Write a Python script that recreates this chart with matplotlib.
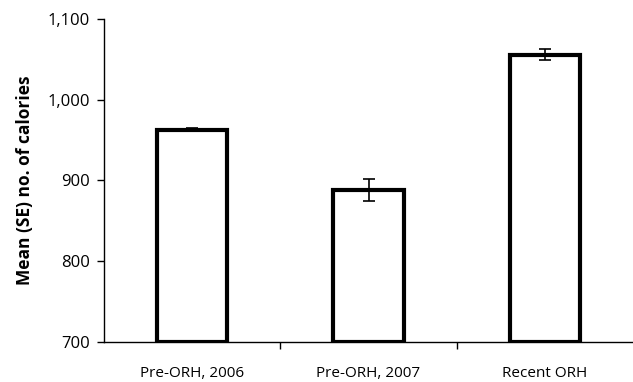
import numpy as np
import matplotlib
matplotlib.use("Agg")
import matplotlib.pyplot as plt

plt.rcParams['font.family'] = ['Open Sans', 'DejaVu Sans']

groups = ["Pre-ORH, 2006", "Pre-ORH, 2007", "Recent ORH"]
means = [963, 888, 1056]
se = [2, 14, 7]
yticks = [700, 800, 900, 1000, 1100]

fig = plt.figure(figsize=(6.33, 3.82), dpi=100)
ax = fig.add_axes([0.1643, 0.1047, 0.8357, 0.8456])

x = np.arange(len(groups))
ax.bar(x, np.array(means) - 700, bottom=700, width=0.4, color='white',
       edgecolor='black', linewidth=3, zorder=2)
ax.errorbar(x, means, yerr=se, fmt='none', ecolor='black', elinewidth=1.2,
            capsize=4, capthick=1.2, zorder=3)

ax.set_xlim(-0.5, 2.5)
ax.set_ylim(700, 1100)
ax.set_yticks(yticks)
ax.set_yticklabels([f"{v:,}" for v in yticks], fontsize=12)
ax.set_xticks(x)
ax.set_xticklabels(groups, fontsize=11)
ax.set_xticks([0.5, 1.5], minor=True)
ax.tick_params(axis='x', which='major', length=0, pad=17)
ax.tick_params(axis='x', which='minor', length=5, width=1, direction='out')
ax.tick_params(axis='y', length=5, width=1, direction='out', pad=5)

for s in ['top', 'right']:
    ax.spines[s].set_visible(False)
for s in ['left', 'bottom']:
    ax.spines[s].set_linewidth(1)

ax.set_ylabel("Mean (SE) no. of calories", fontsize=12.5, fontweight='bold', labelpad=10)

fig.savefig("out.png", dpi=100)
